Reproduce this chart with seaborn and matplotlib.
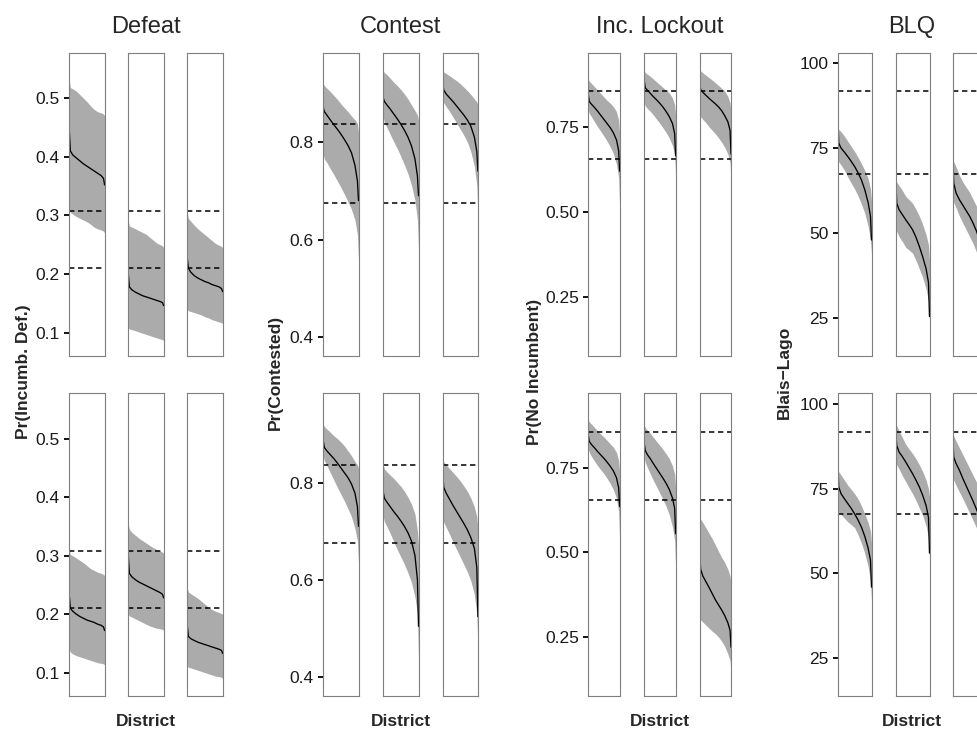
import matplotlib
matplotlib.use("Agg")
import matplotlib.pyplot as plt
import seaborn as sns

sns.set_style("white")
plt.rcParams['font.family'] = ['Liberation Sans', 'DejaVu Sans']

# districts sorted by posterior mean, position as share of all districts
district_rank = [0, 0.03, 0.1, 0.2, 0.3, 0.4, 0.5, 0.6, 0.7, 0.8, 0.9, 0.97, 1.0]

# ---- Defeat: Pr(Incumb. Def.) -- panels: top row 1-3, bottom row 1-3
defeat_mid = [
    [0.445, 0.41, 0.403, 0.398, 0.393, 0.388, 0.384, 0.38, 0.376, 0.372, 0.368, 0.363, 0.352],
    [0.2, 0.178, 0.173, 0.169, 0.166, 0.163, 0.161, 0.159, 0.157, 0.155, 0.153, 0.151, 0.146],
    [0.227, 0.21, 0.203, 0.197, 0.193, 0.19, 0.187, 0.185, 0.182, 0.18, 0.178, 0.175, 0.17],
    [0.232, 0.21, 0.205, 0.2, 0.196, 0.193, 0.19, 0.188, 0.186, 0.183, 0.181, 0.178, 0.172],
    [0.3, 0.27, 0.264, 0.259, 0.255, 0.252, 0.249, 0.246, 0.243, 0.24, 0.237, 0.234, 0.228],
    [0.18, 0.162, 0.158, 0.155, 0.152, 0.15, 0.148, 0.146, 0.144, 0.142, 0.14, 0.138, 0.133],
]
defeat_lo = [
    [0.31, 0.305, 0.302, 0.298, 0.295, 0.292, 0.289, 0.285, 0.28, 0.277, 0.275, 0.273, 0.27],
    [0.108, 0.106, 0.105, 0.103, 0.101, 0.099, 0.097, 0.095, 0.093, 0.091, 0.089, 0.088, 0.086],
    [0.14, 0.137, 0.136, 0.134, 0.132, 0.13, 0.127, 0.125, 0.122, 0.12, 0.118, 0.117, 0.115],
    [0.14, 0.135, 0.132, 0.129, 0.127, 0.125, 0.123, 0.121, 0.119, 0.117, 0.116, 0.115, 0.113],
    [0.2, 0.197, 0.195, 0.192, 0.189, 0.186, 0.183, 0.18, 0.178, 0.176, 0.175, 0.174, 0.172],
    [0.112, 0.109, 0.108, 0.106, 0.104, 0.102, 0.1, 0.098, 0.096, 0.094, 0.093, 0.092, 0.09],
]
defeat_hi = [
    [0.53, 0.518, 0.516, 0.512, 0.506, 0.5, 0.494, 0.487, 0.481, 0.477, 0.475, 0.473, 0.47],
    [0.29, 0.282, 0.28, 0.277, 0.274, 0.271, 0.268, 0.263, 0.258, 0.253, 0.25, 0.248, 0.245],
    [0.305, 0.295, 0.29, 0.283, 0.277, 0.272, 0.267, 0.262, 0.257, 0.252, 0.249, 0.247, 0.245],
    [0.31, 0.302, 0.3, 0.296, 0.292, 0.288, 0.283, 0.278, 0.275, 0.272, 0.27, 0.268, 0.266],
    [0.355, 0.345, 0.34, 0.335, 0.33, 0.326, 0.322, 0.318, 0.314, 0.311, 0.308, 0.306, 0.304],
    [0.245, 0.238, 0.235, 0.231, 0.227, 0.222, 0.217, 0.212, 0.208, 0.205, 0.203, 0.201, 0.2],
]
defeat_ref = [0.308, 0.211]
defeat_ticks = [0.1, 0.2, 0.3, 0.4, 0.5]
defeat_ticklabels = ['0.1', '0.2', '0.3', '0.4', '0.5']

# ---- Contest: Pr(Contested)
contest_mid = [
    [0.87, 0.862, 0.855, 0.845, 0.835, 0.826, 0.816, 0.805, 0.793, 0.778, 0.752, 0.72, 0.68],
    [0.89, 0.883, 0.876, 0.867, 0.857, 0.847, 0.836, 0.824, 0.81, 0.792, 0.765, 0.73, 0.69],
    [0.92, 0.906, 0.898, 0.89, 0.882, 0.873, 0.864, 0.855, 0.845, 0.832, 0.81, 0.78, 0.74],
    [0.885, 0.872, 0.865, 0.857, 0.849, 0.84, 0.83, 0.82, 0.81, 0.797, 0.778, 0.75, 0.71],
    [0.78, 0.768, 0.76, 0.75, 0.74, 0.731, 0.721, 0.71, 0.697, 0.68, 0.65, 0.6, 0.505],
    [0.82, 0.79, 0.778, 0.765, 0.752, 0.74, 0.728, 0.716, 0.703, 0.687, 0.665, 0.625, 0.525],
]
contest_lo = [
    [0.775, 0.765, 0.758, 0.745, 0.733, 0.72, 0.707, 0.693, 0.678, 0.662, 0.64, 0.61, 0.56],
    [0.85, 0.84, 0.83, 0.815, 0.8, 0.786, 0.77, 0.753, 0.735, 0.712, 0.68, 0.64, 0.58],
    [0.89, 0.88, 0.872, 0.862, 0.85, 0.838, 0.826, 0.814, 0.8, 0.78, 0.75, 0.71, 0.65],
    [0.855, 0.845, 0.835, 0.82, 0.805, 0.79, 0.776, 0.762, 0.746, 0.73, 0.705, 0.68, 0.635],
    [0.73, 0.72, 0.71, 0.695, 0.678, 0.662, 0.647, 0.632, 0.615, 0.595, 0.565, 0.53, 0.44],
    [0.73, 0.718, 0.708, 0.693, 0.677, 0.662, 0.647, 0.632, 0.617, 0.598, 0.57, 0.53, 0.46],
]
contest_hi = [
    [0.92, 0.915, 0.91, 0.903, 0.895, 0.887, 0.878, 0.87, 0.862, 0.853, 0.845, 0.838, 0.82],
    [0.945, 0.942, 0.938, 0.93, 0.922, 0.915, 0.907, 0.898, 0.888, 0.876, 0.864, 0.855, 0.845],
    [0.945, 0.943, 0.94, 0.935, 0.93, 0.925, 0.919, 0.912, 0.905, 0.897, 0.888, 0.882, 0.875],
    [0.92, 0.915, 0.91, 0.903, 0.896, 0.89, 0.883, 0.875, 0.865, 0.855, 0.843, 0.836, 0.83],
    [0.835, 0.828, 0.822, 0.815, 0.808, 0.8, 0.792, 0.782, 0.77, 0.756, 0.735, 0.7, 0.67],
    [0.85, 0.842, 0.836, 0.828, 0.82, 0.812, 0.803, 0.793, 0.782, 0.768, 0.75, 0.73, 0.705],
]
contest_ref = [0.836, 0.676]
contest_ticks = [0.4, 0.6, 0.8]
contest_ticklabels = ['0.4', '0.6', '0.8']

# ---- Inc. Lockout: Pr(No Incumbent)
lockout_mid = [
    [0.845, 0.825, 0.817, 0.807, 0.796, 0.784, 0.772, 0.76, 0.748, 0.733, 0.712, 0.68, 0.62],
    [0.885, 0.865, 0.858, 0.848, 0.838, 0.829, 0.819, 0.808, 0.795, 0.78, 0.76, 0.73, 0.665],
    [0.878, 0.86, 0.852, 0.843, 0.834, 0.826, 0.818, 0.809, 0.798, 0.783, 0.765, 0.74, 0.67],
    [0.845, 0.827, 0.818, 0.808, 0.797, 0.787, 0.777, 0.766, 0.754, 0.74, 0.72, 0.69, 0.635],
    [0.82, 0.8, 0.788, 0.775, 0.76, 0.746, 0.732, 0.718, 0.703, 0.685, 0.66, 0.63, 0.555],
    [0.5, 0.45, 0.43, 0.413, 0.396, 0.378, 0.36, 0.345, 0.33, 0.313, 0.292, 0.27, 0.22],
]
lockout_lo = [
    [0.8, 0.79, 0.78, 0.765, 0.75, 0.737, 0.723, 0.708, 0.692, 0.672, 0.64, 0.6, 0.515],
    [0.82, 0.812, 0.804, 0.795, 0.784, 0.772, 0.76, 0.747, 0.733, 0.717, 0.695, 0.67, 0.605],
    [0.79, 0.78, 0.772, 0.762, 0.75, 0.74, 0.73, 0.718, 0.705, 0.69, 0.67, 0.645, 0.59],
    [0.805, 0.795, 0.783, 0.769, 0.755, 0.743, 0.732, 0.718, 0.703, 0.685, 0.66, 0.62, 0.54],
    [0.78, 0.765, 0.75, 0.73, 0.71, 0.692, 0.674, 0.655, 0.635, 0.61, 0.575, 0.535, 0.46],
    [0.31, 0.3, 0.294, 0.285, 0.276, 0.267, 0.26, 0.25, 0.238, 0.222, 0.2, 0.18, 0.145],
]
lockout_hi = [
    [0.89, 0.885, 0.878, 0.868, 0.858, 0.848, 0.838, 0.828, 0.82, 0.81, 0.795, 0.77, 0.73],
    [0.915, 0.91, 0.905, 0.898, 0.89, 0.882, 0.874, 0.866, 0.858, 0.85, 0.835, 0.815, 0.785],
    [0.92, 0.915, 0.909, 0.902, 0.895, 0.888, 0.88, 0.872, 0.864, 0.855, 0.84, 0.82, 0.79],
    [0.89, 0.885, 0.878, 0.868, 0.858, 0.848, 0.84, 0.83, 0.82, 0.81, 0.795, 0.77, 0.735],
    [0.875, 0.868, 0.86, 0.85, 0.838, 0.826, 0.815, 0.803, 0.79, 0.776, 0.755, 0.73, 0.69],
    [0.61, 0.598, 0.588, 0.572, 0.556, 0.54, 0.522, 0.503, 0.485, 0.47, 0.45, 0.43, 0.4],
]
lockout_ref = [0.856, 0.655]
lockout_ticks = [0.25, 0.5, 0.75]
lockout_ticklabels = ['0.25', '0.50', '0.75']

# ---- BLQ: Blais-Lago
blq_mid = [
    [85.8, 76.5, 75, 73.8, 72.5, 71.1, 69.6, 67.8, 65.7, 62.8, 59, 55, 48],
    [67.6, 58.8, 56.9, 55.4, 53.9, 52.5, 51, 48.8, 46.1, 43, 39.5, 35.5, 25.5],
    [74.5, 64.7, 61.8, 59.8, 58.2, 56.6, 55, 53, 50.7, 47.8, 44, 40, 33],
    [84.3, 75.5, 73.5, 72, 70.6, 69.2, 67.6, 65.8, 63.7, 61, 57.5, 53.9, 46],
    [92.2, 87.7, 85.8, 84.4, 82.8, 81.1, 79.4, 77.5, 75.5, 73, 70, 66.5, 56],
    [91.2, 84.3, 82.4, 80.4, 78, 75.8, 73.6, 71.4, 69, 66.5, 63, 59.5, 52],
]
blq_lo = [
    [72.5, 71, 70, 68.5, 66.5, 64.7, 63, 61, 58.6, 55.9, 52, 48, 44],
    [52, 50.5, 49, 47.5, 45.8, 45, 44.1, 42, 39.5, 37, 33.5, 30, 25],
    [61, 59, 57.5, 55, 53, 51, 49, 47, 44.5, 41.5, 37.5, 33, 26],
    [69, 68, 67.3, 66.3, 65.2, 64.4, 63.5, 61.5, 59, 56, 52, 48, 42],
    [83.3, 82, 80.8, 78.8, 77, 75.2, 73.5, 71.5, 69.3, 67, 64, 60.5, 55],
    [79, 77.5, 76, 74, 72, 70, 67.8, 65.7, 63.5, 61, 57.5, 53, 46],
]
blq_hi = [
    [81.5, 80.5, 79.8, 78.5, 77, 75.5, 74, 72.3, 70.5, 68.5, 66, 63, 59.5],
    [65.7, 65, 64, 62.5, 60.8, 59.8, 58.8, 57, 55, 52.5, 49.5, 46.5, 42],
    [72, 71, 69.5, 67, 65, 63.5, 62, 60, 58, 55.5, 52, 49, 45],
    [81, 80, 79, 77.5, 76, 74.8, 73.5, 72, 70, 67.6, 65, 62.5, 59],
    [95, 93.5, 92, 90, 88, 86.6, 85.3, 83.8, 82, 80, 77.5, 75, 72.5],
    [92, 90.5, 89, 87, 85, 83, 81, 79, 77, 74.5, 71.5, 68.5, 64],
]
blq_ref = [91.8, 67.4]
blq_ticks = [25, 50, 75, 100]
blq_ticklabels = ['25', '50', '75', '100']

titles = ['Defeat', 'Contest', 'Inc. Lockout', 'BLQ']
ylabels = ['Pr(Incumb. Def.)', 'Pr(Contested)', 'Pr(No Incumbent)', 'Blais\u2212Lago']

# layout in pixels (figure is 977 x 731), the last BLQ column runs off the page
W, H = 977, 731
group_lefts = [[69.3, 128.3, 187.3], [323.3, 383.3, 442.7],
               [588.3, 644.3, 699.7], [837.7, 895.7, 952.7]]
group_width = [35.3, 35.2, 31.3, 33.8]
group_ylim = [(0.06, 0.578), (0.362, 0.983), (0.076, 0.969), (13.9, 103.1)]
ylabel_x = [24, 275, 534, 784]
row_top = [52.5, 393.3]
row_h = [303.5, 302.7]

groups = [
    (defeat_mid, defeat_lo, defeat_hi, defeat_ref, defeat_ticks, defeat_ticklabels),
    (contest_mid, contest_lo, contest_hi, contest_ref, contest_ticks, contest_ticklabels),
    (lockout_mid, lockout_lo, lockout_hi, lockout_ref, lockout_ticks, lockout_ticklabels),
    (blq_mid, blq_lo, blq_hi, blq_ref, blq_ticks, blq_ticklabels),
]

fig = plt.figure(figsize=(W / 100, H / 100), dpi=100)

for g, (mid, lo, hi, ref, ticks, ticklabels) in enumerate(groups):
    for row in range(2):
        for col in range(3):
            k = row * 3 + col
            ax = fig.add_axes([group_lefts[g][col] / W, 1 - (row_top[row] + row_h[row]) / H,
                               group_width[g] / W, row_h[row] / H])
            ax.fill_between(district_rank, lo[k], hi[k], color='#ABABAB', lw=0)
            sns.lineplot(x=district_rank, y=mid[k], ax=ax, color='black', linewidth=0.95)
            # reference lines
            for r in ref:
                ax.axhline(r, color='black', lw=1.1, ls=(0, (3.5, 2.4)))
            ax.set_xlim(0, 1)
            ax.set_ylim(*group_ylim[g])
            ax.set_xticks([])
            ax.set_xlabel('')
            ax.set_ylabel('')
            if col == 0:
                ax.set_yticks(ticks)
                ax.set_yticklabels(ticklabels)
                ax.tick_params(axis='y', left=True, length=3.6, width=1.3, color='black',
                               pad=3.2, labelsize=12.5, labelcolor='#1A1A1A')
            else:
                ax.set_yticks([])
            for sp in ax.spines.values():
                sp.set_color('#7F7F7F')
                sp.set_linewidth(0.8)

    cx = (group_lefts[g][0] + group_lefts[g][2] + group_width[g]) / 2
    fig.text(cx / W, 1 - 27 / H, titles[g], ha='center', va='center', fontsize=17)
    fig.text(cx / W, 1 - 721 / H, 'District', ha='center', va='center',
             fontsize=12.5, fontweight='bold')
    fig.text(ylabel_x[g] / W, 1 - 372 / H, ylabels[g], ha='center', va='center',
             rotation=90, fontsize=12.5, fontweight='bold')

fig.savefig('out.png', dpi=100)
